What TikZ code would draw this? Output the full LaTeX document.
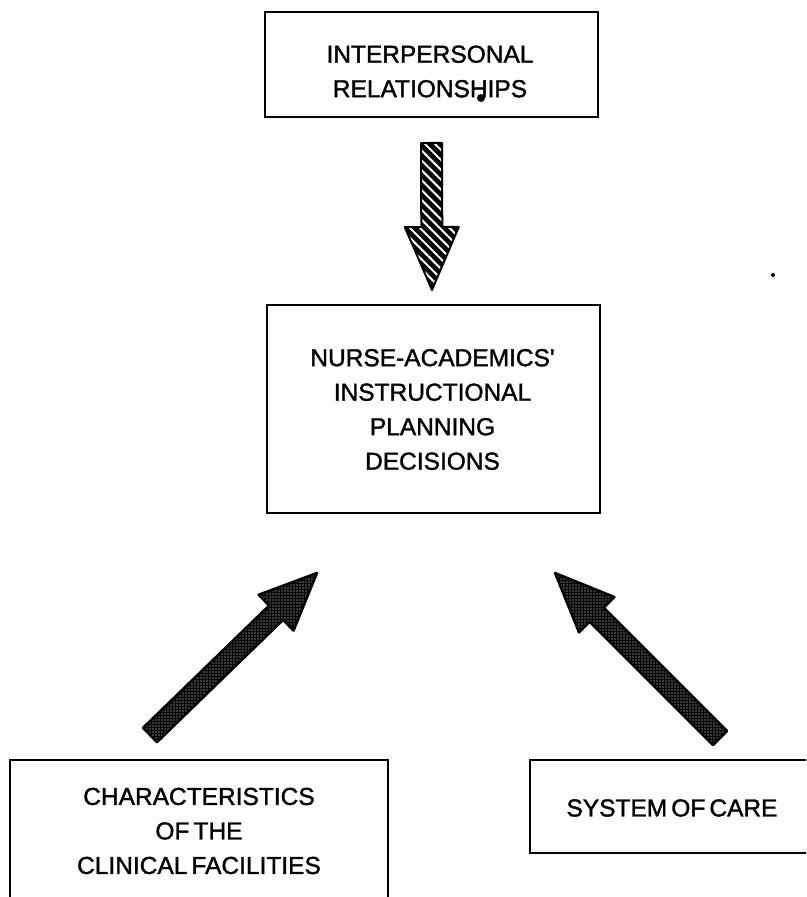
\documentclass[tikz,border=0pt]{standalone}
\usepackage{fontspec}
\setmainfont{Liberation Sans}
\newfontfamily\labelfont{Liberation Sans}[Ligatures=TeXOff, FakeBold=1.4, WordSpace=0.6]
\usetikzlibrary{calc,patterns.meta}
\tikzset{
  boxshape/.style={draw, line width=2.3pt, inner sep=0pt, minimum width=#1},
  labeltext/.style={font=\labelfont\fontsize{24.5}{34.5}\selectfont, align=center, inner sep=0pt},
  hatcharrow/.style={fill=black,
    postaction={pattern={Lines[angle=-45,distance=7pt,line width=2pt]}, pattern color=white},
    postaction={draw=black, line width=2pt, line join=round}},
  dotarrow/.style={fill=black,
    postaction={pattern={Dots[radius=0.6pt,distance=3pt]}, pattern color=white},
    postaction={draw=black, line width=2.5pt, line join=round}},
  blob/.style={fill=black, circle, inner sep=0pt, minimum size=#1},
}
% #1 style, #2 tail, #3 tip, #4 shaft half width, #5 head half width, #6 head length, #7 base name
\newcommand{\fatarrow}[7]{%
  \coordinate (#7) at ($(#3)!#6!(#2)$);
  \path[#1] ($(#2)!#4!90:(#3)$) -- ($(#7)!#4!90:(#3)$) -- ($(#7)!#5!90:(#3)$) -- (#3)
    -- ($(#7)!#5!-90:(#3)$) -- ($(#7)!#4!-90:(#3)$) -- ($(#2)!#4!-90:(#3)$) -- cycle;
}
\begin{document}
\begin{tikzpicture}[x=1pt,y=1pt]
  \useasboundingbox (0,0) rectangle (806,897);
  \clip (0,0) rectangle (806,897);
  \fill[white] (0,0) rectangle (806,897);

  % boxes
  \node[boxshape=333pt, minimum height=105pt] (top) at (431.5,832.5) {};
  \node[labeltext] (toptext) at (430,825.5) {INTERPERSONAL\\RELATIONSHIPS};
  \node[blob=8pt] (speck1) at (481,799) {};

  \node[boxshape=333pt, minimum height=208pt] (mid) at (433.5,488) {};
  \node[labeltext] (midtext) at (432.5,487.5) {NURSE-ACADEMICS'\\INSTRUCTIONAL\\PLANNING\\DECISIONS};

  \node[boxshape=378pt, minimum height=187pt] (bl) at (199,43.5) {};
  \node[labeltext] (bltext) at (199,66) {CHARACTERISTICS\\OF THE\\CLINICAL FACILITIES};

  \node[boxshape=300pt, minimum height=93pt] (br) at (680,90.5) {};
  \node[labeltext] (brtext) at (672,89) {SYSTEM OF CARE};

  \node[blob=4pt] (speck2) at (773,622) {};

  % arrows
  \coordinate (dtail) at (431.5,754);
  \coordinate (dtip) at (432,607);
  \fatarrow{hatcharrow}{dtail}{dtip}{10.5pt}{27pt}{63pt}{dbase}

  \coordinate (ltail) at (150,162);
  \coordinate (ltip) at (317,324);
  \fatarrow{dotarrow}{ltail}{ltip}{10pt}{25pt}{57pt}{lbase}

  \coordinate (rtail) at (720,159);
  \coordinate (rtip) at (555,324);
  \fatarrow{dotarrow}{rtail}{rtip}{10pt}{25pt}{59pt}{rbase}
\end{tikzpicture}
\end{document}
